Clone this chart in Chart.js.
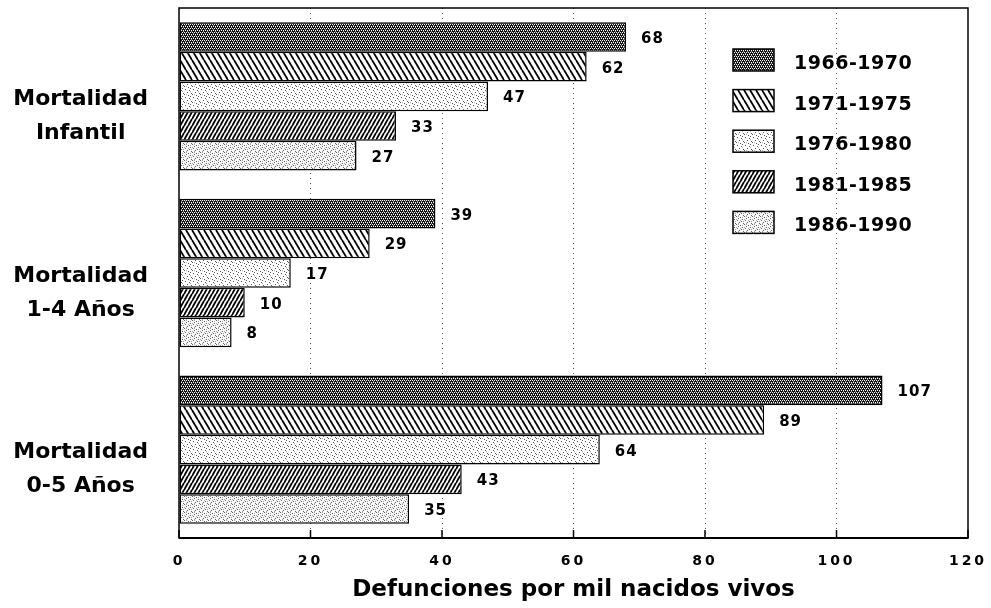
<!DOCTYPE html>
<html>
<head>
    <meta charset="utf-8">
    <title>Mortalidad</title>
    <script src="https://cdn.jsdelivr.net/npm/chart.js@4/dist/chart.umd.min.js"></script>
    <style>
        body {
            margin: 0;
            background: #fff;
        }
        #wrap {
            width: 991px;
            height: 608px;
        }
    </style>
</head>
<body>
    <div id="wrap">
        <canvas id="chart" width="991" height="608"></canvas>
    </div>

    <script>
        // Data
        const categories = [
            ['Mortalidad', 'Infantil'],
            ['Mortalidad', '1-4 Años'],
            ['Mortalidad', '0-5 Años']
        ];
        const periods = ['1966-1970', '1971-1975', '1976-1980', '1981-1985', '1986-1990'];
        const p1966 = [68, 39, 107];
        const p1971 = [62, 29, 89];
        const p1976 = [47, 17, 64];
        const p1981 = [33, 10, 43];
        const p1986 = [27, 8, 35];
        const xMin = 0, xMax = 120, xStep = 20;
        const axisTitle = 'Defunciones por mil nacidos vivos';

        const FONT = '"DejaVu Sans", "Liberation Sans", Arial, sans-serif';

        // Hatch / stipple fills like the printed original
        function dots(g, list, color) {
            g.fillStyle = color;
            list.forEach(p => g.fillRect(p[0], p[1], 1, 1));
        }

        function makePattern(kind) {
            const c = document.createElement('canvas');
            const g = c.getContext('2d');
            if (kind === 'dark') {
                c.width = 4; c.height = 4;
                g.fillStyle = '#151515';
                g.fillRect(0, 0, 4, 4);
                dots(g, [[0, 0], [2, 0], [1, 2], [3, 2]], '#fff');
                dots(g, [[1, 1], [3, 3]], '#888');
            } else if (kind === 'back') {
                c.width = 6; c.height = 10;
                g.fillStyle = '#fff';
                g.fillRect(0, 0, 6, 10);
                g.strokeStyle = '#000';
                g.lineWidth = 1.8;
                for (let k = -1; k <= 1; k++) {
                    g.beginPath();
                    g.moveTo(k * 6, 0);
                    g.lineTo(k * 6 + 6, 10);
                    g.stroke();
                }
            } else if (kind === 'fwd') {
                c.width = 4; c.height = 7;
                g.fillStyle = '#fff';
                g.fillRect(0, 0, 4, 7);
                g.strokeStyle = '#000';
                g.lineWidth = 1.8;
                for (let k = -1; k <= 1; k++) {
                    g.beginPath();
                    g.moveTo(k * 4 + 4, 0);
                    g.lineTo(k * 4, 7);
                    g.stroke();
                }
            } else if (kind === 'light') {
                c.width = 8; c.height = 8;
                g.fillStyle = '#fff';
                g.fillRect(0, 0, 8, 8);
                dots(g, [[1, 1], [5, 2], [3, 4], [7, 5], [0, 6], [4, 7], [6, 0]], '#555');
                dots(g, [[2, 6], [6, 3]], '#aaa');
            } else {
                c.width = 8; c.height = 8;
                g.fillStyle = '#f6f6f6';
                g.fillRect(0, 0, 8, 8);
                dots(g, [[0, 0], [4, 1], [2, 2], [6, 3], [1, 4], [5, 5], [3, 6], [7, 7]], '#666');
                dots(g, [[2, 0], [6, 1], [0, 3], [4, 4], [7, 5], [2, 7]], '#aaa');
            }
            return g.createPattern(c, 'repeat');
        }

        const fills = ['dark', 'back', 'light', 'fwd', 'light2'].map(makePattern);
        const seriesValues = [p1966, p1971, p1976, p1981, p1986];

        const datasets = periods.map((label, i) => ({
            label: label,
            data: seriesValues[i],
            backgroundColor: fills[i],
            borderColor: '#000',
            borderWidth: 1.5,
            borderSkipped: false,
            categoryPercentage: 0.84,
            barPercentage: 1.0
        }));

        // Frame, inner tick marks, value labels and the boxed legend
        const decorations = {
            id: 'decorations',
            beforeDraw(chart) {
                chart.ctx.letterSpacing = '0px';
            },
            afterDatasetsDraw(chart) {
                const ctx = chart.ctx;
                const a = chart.chartArea;
                const x = chart.scales.x;
                ctx.save();
                ctx.strokeStyle = '#000';
                ctx.lineWidth = 1.5;
                x.ticks.forEach(t => {
                    const px = x.getPixelForValue(t.value);
                    ctx.beginPath();
                    ctx.moveTo(px, a.bottom);
                    ctx.lineTo(px, a.bottom - 8);
                    ctx.stroke();
                });
                ctx.strokeRect(a.left, a.top, a.right - a.left, a.bottom - a.top);
                ctx.lineWidth = 2;
                ctx.beginPath();
                ctx.moveTo(a.left, a.bottom);
                ctx.lineTo(a.right, a.bottom);
                ctx.stroke();

                ctx.font = 'bold 15px ' + FONT;
                ctx.letterSpacing = '1px';
                ctx.fillStyle = '#000';
                ctx.textAlign = 'left';
                ctx.textBaseline = 'middle';
                chart.data.datasets.forEach((ds, i) => {
                    chart.getDatasetMeta(i).data.forEach((bar, j) => {
                        ctx.fillText(String(ds.data[j]), bar.x + 15, bar.y + 2);
                    });
                });
                ctx.restore();
                // x tick labels are drawn after this (ticks.z = 1)
                ctx.letterSpacing = '3px';
            },
            afterDraw(chart) {
                const ctx = chart.ctx;
                ctx.save();
                ctx.letterSpacing = '0.5px';
                const bx = 733, by = 49, bw = 41, bh = 22, step = 40.6;
                ctx.font = 'bold 19px ' + FONT;
                ctx.textAlign = 'left';
                ctx.textBaseline = 'middle';
                periods.forEach((p, i) => {
                    const y = by + i * step;
                    ctx.fillStyle = fills[i];
                    ctx.fillRect(bx, y, bw, bh);
                    ctx.strokeStyle = '#000';
                    ctx.lineWidth = 1.5;
                    ctx.strokeRect(bx, y, bw, bh);
                    ctx.fillStyle = '#000';
                    ctx.fillText(p, bx + 61, y + bh / 2 + 4);
                });
                ctx.restore();
                ctx.letterSpacing = '0px';
            }
        };

        new Chart(document.getElementById('chart'), {
            type: 'bar',
            data: {
                labels: categories,
                datasets: datasets
            },
            options: {
                indexAxis: 'y',
                responsive: false,
                animation: false,
                devicePixelRatio: 1,
                layout: {
                    padding: { top: 8, right: 23, bottom: 0, left: 0 }
                },
                plugins: {
                    legend: { display: false },
                    tooltip: { enabled: false }
                },
                scales: {
                    y: {
                        type: 'category',
                        offset: true,
                        grid: { display: false, drawTicks: false },
                        border: { display: false },
                        ticks: {
                            color: '#000',
                            font: { family: FONT, size: 22, weight: 'bold', lineHeight: 1.55 },
                            crossAlign: 'center',
                            padding: 31,
                            labelOffset: 20
                        },
                        afterFit(scale) {
                            scale.width = 179;
                            scale.paddingTop = 0;
                            scale.paddingBottom = 0;
                        }
                    },
                    x: {
                        type: 'linear',
                        min: xMin,
                        max: xMax,
                        grid: {
                            color: c => (c.tick && (c.tick.value === xMin || c.tick.value === xMax)) ? 'rgba(0,0,0,0)' : '#555',
                            lineWidth: 1,
                            drawTicks: false
                        },
                        border: { display: false, dash: [1, 4] },
                        ticks: {
                            stepSize: xStep,
                            autoSkip: false,
                            maxRotation: 0,
                            color: '#000',
                            padding: 15,
                            z: 1,
                            font: { family: FONT, size: 14, weight: 'bold' }
                        },
                        title: {
                            display: true,
                            text: axisTitle,
                            color: '#000',
                            font: { family: FONT, size: 23, weight: 'bold' },
                            padding: { top: 0, bottom: 4 }
                        },
                        afterFit(scale) {
                            scale.height = 70;
                            scale.paddingLeft = 0;
                            scale.paddingRight = 0;
                        }
                    }
                }
            },
            plugins: [decorations]
        });
    </script>
</body>
</html>
